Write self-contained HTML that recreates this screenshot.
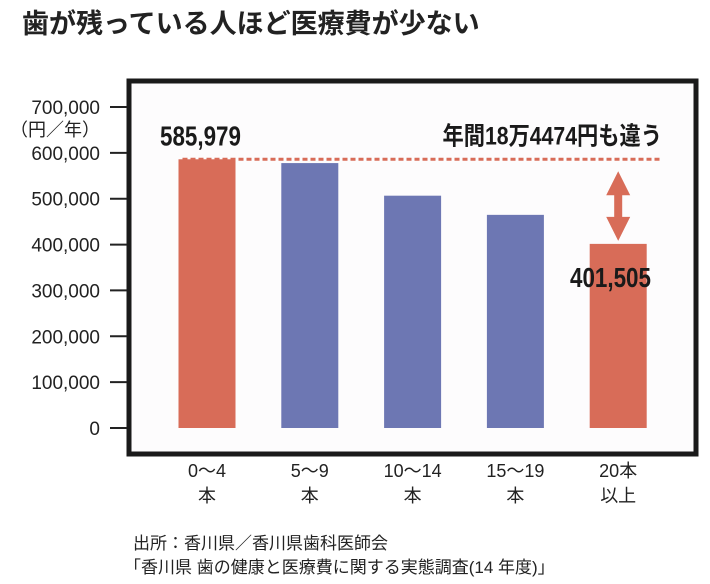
<!DOCTYPE html>
<html><head><meta charset="utf-8"><style>
body{margin:0;background:#fff;width:710px;height:584px;overflow:hidden;font-family:"Liberation Sans","Noto Sans CJK JP",sans-serif;}
svg{display:block}
</style></head><body>
<svg id="chart" width="710" height="584" xmlns="http://www.w3.org/2000/svg">
<text x="22" y="33" font-size="27" font-weight="bold" fill="#222" font-family="Noto Sans CJK JP, sans-serif">歯が残っている人ほど医療費が少ない</text>
<rect x="129" y="81" width="567" height="373" fill="#fdfcfd" stroke="#1a1a1a" stroke-width="5"/>
<text x="100" y="136" font-size="18" text-anchor="end" fill="#222">（円／年）</text>
<g id="yaxis"></g><g id="bars"></g><g id="xlabels"></g>
<text x="133" y="549" font-size="17" fill="#222">出所：香川県／香川県歯科医師会</text>
<text x="124" y="573" font-size="17" fill="#222">「香川県 歯の健康と医療費に関する実態調査(14 年度)」</text>
</svg>
<script>
const categories=[["0～4","本"],["5～9","本"],["10～14","本"],["15～19","本"],["20本","以上"]];
const values=[585979,577700,506600,464800,401505];
const highlight=[true,false,false,false,true];
const yTicks=[0,100000,200000,300000,400000,500000,600000,700000];
const yTickLabels=["0","100,000","200,000","300,000","400,000","500,000","600,000","700,000"];
const NS="http://www.w3.org/2000/svg";
const y=v=>428-v/700000*321;
const x=i=>207+i*102.8;
const bw=57;
function mk(t,a,p){const e=document.createElementNS(NS,t);for(const k in a)e.setAttribute(k,a[k]);p.appendChild(e);return e;}
const ya=document.getElementById('yaxis');
yTicks.forEach((v,i)=>{
 const l=mk('line',{x1:110,x2:127,y1:y(v),y2:y(v),stroke:'#222','stroke-width':2},ya);
 
 
 const t=mk('text',{x:100,y:y(v)+7,'font-size':19,'text-anchor':'end',fill:'#222'},ya);
 t.textContent=yTickLabels[i];
 
 
});
const bg=document.getElementById('bars');
values.forEach((v,i)=>{
 const r=mk('rect',{x:x(i)-bw/2,y:y(v),width:bw,height:y(0)-y(v),fill:highlight[i]?'#d86c58':'#6d77b3'},bg);
 
 
});
const hi=values[0],lo=values[values.length-1];
const d=mk('line',{x1:x(0)-bw/2+4,x2:662,y1:y(hi),y2:y(hi),stroke:'#d86c58','stroke-width':3,'stroke-dasharray':'5,3'},bg);


const ax=x(4);
const a0=y(hi)+12, a1=y(lo)-3, L=a1-a0-48;
const ar=mk('path',{d:`M${ax} ${a0} l-12 24 h8 v${L} h-8 l12 24 l12 -24 h-8 v-${L} h8 z`,fill:'#d86c58'},bg);


function fmt(n){return n.toLocaleString('en-US');}
const t1=mk('text',{x:0,y:0,'font-size':28,'font-weight':'bold',fill:'#1a1a1a',transform:`translate(160 ${y(hi)-14}) scale(0.8 1)`},bg);
t1.textContent=fmt(hi);


const t2=mk('text',{x:0,y:0,'font-size':28,'font-weight':'bold',fill:'#1a1a1a',transform:`translate(570 ${y(lo)+43}) scale(0.8 1)`},bg);
t2.textContent=fmt(lo);


const t3=mk('text',{x:0,y:0,'font-size':25,'font-weight':'bold',fill:'#1a1a1a','text-anchor':'end',transform:`translate(662 ${y(hi)-15}) scale(0.85 1)`},bg);
t3.textContent='年間18万4474円も違う';


const xl=document.getElementById('xlabels');
categories.forEach((c,i)=>{
 c.forEach((s,j)=>{
  const t=mk('text',{x:x(i),y:477+j*25,'font-size':18,'text-anchor':'middle',fill:'#222'},xl);
  t.textContent=s;
  
  
 });
});
</script>
</body></html>
